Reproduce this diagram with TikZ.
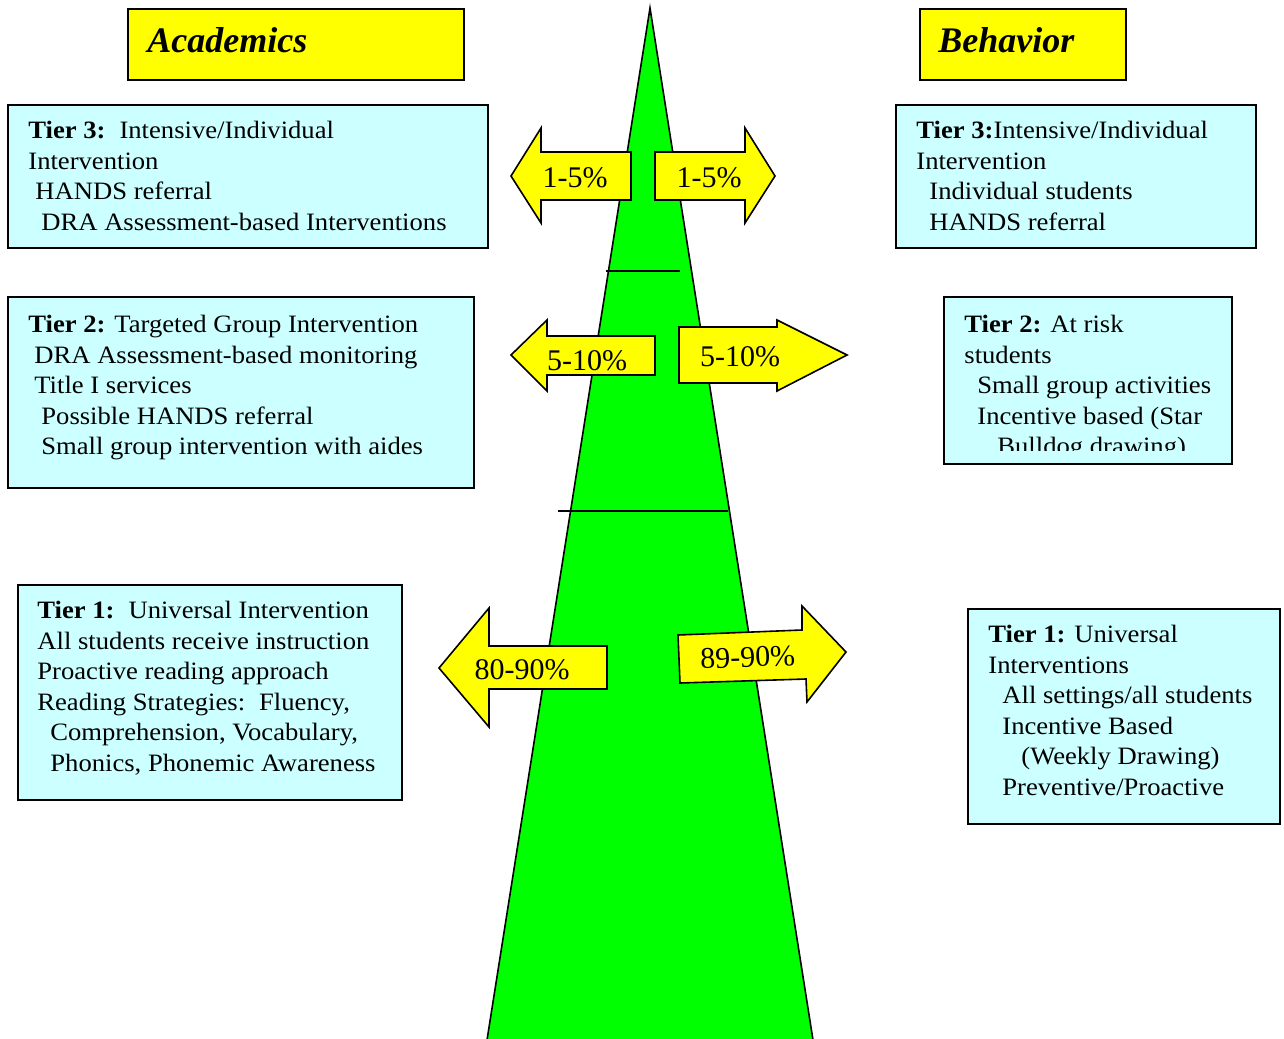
\documentclass[tikz,border=0pt]{standalone}
\usepackage{fontspec}
\setmainfont{Liberation Serif}
\newfontfamily\tierfont[FakeStretch=1.065]{Liberation Serif}
\definecolor{tiercyan}{HTML}{CCFFFF}
\definecolor{headyellow}{HTML}{FFFF00}
\definecolor{pyramidgreen}{HTML}{00FF00}
\tikzset{
  tierbox/.style={draw=black, fill=tiercyan, line width=1pt, anchor=north west, inner sep=0pt},
  headbox/.style={draw=black, fill=headyellow, line width=1pt, anchor=north west, inner sep=0pt},
  headtext/.style={anchor=base west, inner sep=0pt, font=\fontsize{18}{21}\selectfont\bfseries\itshape},
  tiertext/.style={anchor=north west, inner sep=0pt, align=left, font=\tierfont\fontsize{12.5}{15.3}\selectfont},
  pctarrow/.style={draw=black, fill=headyellow, line width=0.8pt, line join=miter},
  pcttext/.style={anchor=base, inner sep=0pt, font=\fontsize{15}{18}\selectfont},
  tierline/.style={draw=black, line width=0.8pt}
}
\begin{document}
\begin{tikzpicture}[x=0.5pt, y=-0.5pt]
\useasboundingbox (0,0) rectangle (1284,1038);
\coordinate (apex) at (650,8);
\coordinate (baseleft) at (487,1040);
\coordinate (baseright) at (813,1040);
\filldraw[fill=pyramidgreen, draw=black, line width=0.8pt] (baseleft) -- (apex) -- (baseright);
\coordinate (sepa) at (606,271);
\coordinate (sepb) at (680,271);
\coordinate (sepc) at (558,511);
\coordinate (sepd) at (728,511);
\draw[tierline] (sepa) -- (sepb);
\draw[tierline] (sepc) -- (sepd);

\node[headbox, minimum width=168pt, minimum height=35.5pt] (acadhead) at (127,8) {};
\node[headtext] (acadlabel) at (147,53) {Academics};
\node[headbox, minimum width=103pt, minimum height=35.5pt] (behhead) at (919,8) {};
\node[headtext] (behlabel) at (938,53) {Behavior};

\node[tierbox, minimum width=240pt, minimum height=71.5pt] (acadthree) at (7,104) {};
\node[tiertext] (acadthreetext) at (28,116.6) {\strut\textbf{Tier 3:}\hspace{7pt}Intensive/Individual\\
  Intervention\\
  \hspace*{3.5pt}HANDS referral\\
  \hspace*{6.5pt}DRA Assessment-based Interventions};

\node[tierbox, minimum width=233pt, minimum height=95.5pt] (acadtwo) at (7,296) {};
\node[tiertext] (acadtwotext) at (28,310.6) {\strut\textbf{Tier 2:} Targeted Group Intervention\\
  \hspace*{3pt}DRA Assessment-based monitoring\\
  \hspace*{3pt}Title I services\\
  \hspace*{6.5pt}Possible HANDS referral\\
  \hspace*{6.5pt}Small group intervention with aides};

\node[tierbox, minimum width=192pt, minimum height=107.5pt] (acadone) at (17,584) {};
\node[tiertext] (acadonetext) at (37,596.6) {\strut\textbf{Tier 1:}\hspace{7pt}Universal Intervention\\
  All students receive instruction\\
  Proactive reading approach\\
  Reading Strategies:\hspace{7pt}Fluency,\\
  \hspace*{6.5pt}Comprehension, Vocabulary,\\
  \hspace*{6.5pt}Phonics, Phonemic Awareness};

\node[tierbox, minimum width=180pt, minimum height=71.5pt] (behthree) at (895,104) {};
\node[tiertext] (behthreetext) at (916,116.6) {\strut\textbf{Tier 3:}Intensive/Individual\\
  Intervention\\
  \hspace*{6.5pt}Individual students\\
  \hspace*{6.5pt}HANDS referral};

\node[tierbox, minimum width=144pt, minimum height=83.5pt] (behtwo) at (943,296) {};
\begin{scope}
\clip (943,296) rectangle (1231,450);
\node[tiertext] (behtwotext) at (964,310.6) {\strut\textbf{Tier 2:} At risk\\
  students\\
  \hspace*{6.5pt}Small group activities\\
  \hspace*{6.5pt}Incentive based (Star\\
  \hspace*{16.5pt}Bulldog drawing)};
\end{scope}

\node[tierbox, minimum width=156pt, minimum height=107.5pt] (behone) at (967,608) {};
\node[tiertext] (behonetext) at (988,620.6) {\strut\textbf{Tier 1:} Universal\\
  Interventions\\
  \hspace*{7pt}All settings/all students\\
  \hspace*{7pt}Incentive Based\\
  \hspace*{16.5pt}(Weekly Drawing)\\
  \hspace*{7pt}Preventive/Proactive};

\draw[pctarrow] (511,176) -- (541,128) -- (541,152) -- (631,152) -- (631,200) -- (541,200) -- (541,223) -- cycle;
\node[pcttext] (leftthree) at (575,187) {1-5\%};
\draw[pctarrow] (655,152) -- (745,152) -- (745,128) -- (775,176) -- (745,223) -- (745,200) -- (655,200) -- cycle;
\node[pcttext] (rightthree) at (709,187) {1-5\%};

\draw[pctarrow] (511,355) -- (547,320) -- (547,336) -- (655,336) -- (655,375) -- (547,375) -- (547,391) -- cycle;
\node[pcttext] (lefttwo) at (587,370) {5-10\%};
\draw[pctarrow] (679,327) -- (777,327) -- (777,320) -- (847,355) -- (777,391) -- (777,383) -- (679,383) -- cycle;
\node[pcttext] (righttwo) at (740,366) {5-10\%};

\draw[pctarrow] (439,668) -- (489,608) -- (489,646) -- (607,646) -- (607,689) -- (489,689) -- (489,727) -- cycle;
\node[pcttext] (leftone) at (522,679) {80-90\%};
\draw[pctarrow] (678,635) -- (802,630) -- (802,606) -- (846,652) -- (807,702) -- (806,679) -- (680,683) -- cycle;
\node[pcttext, rotate=2] (rightone) at (748,667) {89-90\%};
\end{tikzpicture}
\end{document}
